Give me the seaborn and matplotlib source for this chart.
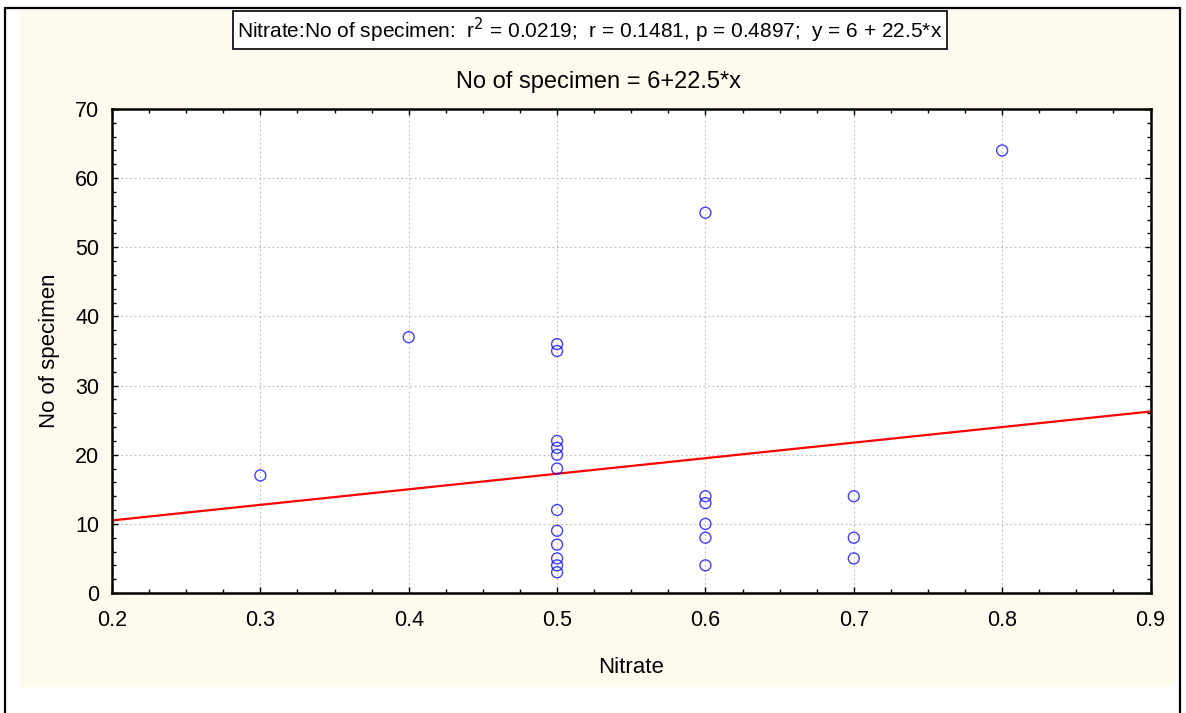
import matplotlib
matplotlib.use("Agg")
import matplotlib.pyplot as plt
from matplotlib.patches import Rectangle
from matplotlib.lines import Line2D
from matplotlib.ticker import MultipleLocator
import seaborn as sns
import pandas as pd

# Data
nitrate = [0.3, 0.4,
           0.5, 0.5, 0.5, 0.5, 0.5, 0.5, 0.5, 0.5, 0.5, 0.5, 0.5, 0.5,
           0.6, 0.6, 0.6, 0.6, 0.6, 0.6,
           0.7, 0.7, 0.7,
           0.8]
specimen = [17, 37,
            36, 35, 22, 21, 20, 18, 12, 9, 7, 5, 4, 3,
            55, 14, 13, 10, 8, 4,
            14, 8, 5,
            64]
x_ticks = [0.2, 0.3, 0.4, 0.5, 0.6, 0.7, 0.8, 0.9]
y_ticks = [0, 10, 20, 30, 40, 50, 60, 70]

df = pd.DataFrame({"Nitrate": nitrate, "No of specimen": specimen})

sns.set_style("white")
plt.rcParams["font.family"] = ["Liberation Sans", "DejaVu Sans"]
plt.rcParams.update({"text.color": "black", "axes.labelcolor": "black",
                     "xtick.color": "black", "ytick.color": "black"})

W, H = 1186, 713
fig = plt.figure(figsize=(W / 100, H / 100), dpi=100)
fig.patch.set_facecolor("white")

# cream background panel
fig.patches.append(Rectangle((20 / W, 1 - 687 / H), 1156 / W, 677 / H,
                             transform=fig.transFigure, facecolor="#FEFAEE",
                             edgecolor="none", zorder=-2))
# outer black frame (left, top, right)
for xs, ys in [([5 / W, 5 / W], [0, 1 - 8 / H]),
               ([5 / W, 1180 / W], [1 - 8 / H, 1 - 8 / H]),
               ([1180 / W, 1180 / W], [0, 1 - 8 / H])]:
    fig.lines.append(Line2D(xs, ys, transform=fig.transFigure, color="black",
                            linewidth=1.6, zorder=-1))

ax = fig.add_axes([112 / W, 1 - 593 / H, (1150.5 - 112) / W, (593 - 109) / H])
ax.set_zorder(1)
ax.set_facecolor("white")
ax.set_xlim(0.2, 0.9)
ax.set_ylim(0, 70)

sns.regplot(data=df, x="Nitrate", y="No of specimen", ax=ax, ci=None,
            truncate=False,
            scatter_kws=dict(s=62, facecolors="none", edgecolors="#1010FF",
                             linewidths=1.0, zorder=3),
            line_kws=dict(color="#FF0000", linewidth=1.6, zorder=2))

ax.set_xlim(0.2, 0.9)
ax.set_ylim(0, 70)
ax.set_xticks(x_ticks)
ax.set_yticks(y_ticks)
ax.set_xticklabels([f"{v:g}" for v in x_ticks])
ax.set_yticklabels([str(v) for v in y_ticks])
ax.xaxis.set_minor_locator(MultipleLocator(0.025))
ax.yaxis.set_minor_locator(MultipleLocator(2))
ax.tick_params(which="both", direction="in", top=True, right=True,
               bottom=True, left=True, color="black", width=1.0,
               labelcolor="black")
ax.tick_params(which="major", length=4, labelsize=15.5, pad=9)
ax.tick_params(which="minor", length=3)
ax.tick_params(axis="x", which="major", pad=12)
for s in ax.spines.values():
    s.set_color("black")
    s.set_linewidth(1.8)
    s.set_visible(True)

ax.grid(True, which="major", linestyle=(0, (1.5, 2.5)), color="#BBBBBB",
        linewidth=0.8)
ax.set_axisbelow(True)

ax.set_xlabel("Nitrate", fontsize=16, labelpad=19, color="black")
ax.set_ylabel("No of specimen", fontsize=16, labelpad=11, color="black")

fig.text(598 / W, 1 - 82 / H, "No of specimen = 6+22.5*x", ha="center",
         va="center", fontsize=17, color="black")
fig.text(590 / W, 1 - 30 / H,
         "Nitrate:No of specimen:  r$^2$ = 0.0219;  r = 0.1481, p = 0.4897;  y = 6 + 22.5*x",
         ha="center", va="center", fontsize=15, color="black",
         bbox=dict(boxstyle="square,pad=0.2", facecolor="white",
                   edgecolor="black", linewidth=1.2))

fig.savefig("out.png", dpi=100)
